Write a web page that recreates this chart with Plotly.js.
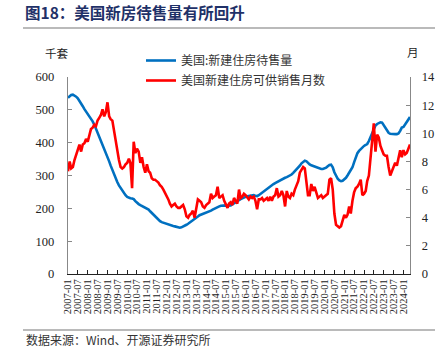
<!DOCTYPE html>
<html><head><meta charset="utf-8">
<script src="https://cdn.plot.ly/plotly-3.0.1.min.js"></script>
<style>html,body{margin:0;padding:0;background:#fff}#chart{width:445px;height:351px}</style>
</head><body><div id="chart"></div>
<script>
// Monthly data, 2007-01 .. 2024-05
const startMonth = '2007-01';
const inventory = [ // 美国:新建住房待售量 (千套)
 537,541,545,546,544,540,535,528,520,511,502,495,
 488,479,472,465,455,443,432,420,408,395,382,370,
 357,343,330,316,303,292,280,270,262,254,246,240,
 235,232,231,230,228,222,217,213,210,207,204,201,
 200,196,191,186,180,174,169,165,161,158,156,154,
 152,150,148,147,146,145,143,142,141,142,144,147,
 150,153,156,160,163,167,171,175,179,181,183,185,
 186,187,190,193,196,199,202,204,206,208,209,209,
 209,208,208,209,212,216,219,222,225,228,231,234,
 235,237,238,238,239,240,238,237,240,244,248,252,
 255,258,262,266,270,274,277,280,283,286,289,291,
 293,295,297,299,303,308,313,318,323,330,337,342,
 345,343,338,334,331,329,327,325,323,321,320,320,
 321,324,328,332,333,325,310,298,290,285,283,284,
 288,293,300,308,315,325,340,355,368,375,381,386,
 390,393,396,405,418,431,442,452,457,460,462,461,
 452,443,436,430,427,426,426,426,426,428,436,446,
 448,455,462,470,478
];
const monthsSupply = [ // 美国新建住房可供销售月数 (月)
 7.3,8.0,7.5,7.6,8.1,8.5,8.7,9.2,8.7,9.2,9.3,9.6,
 9.4,9.8,10.3,10.4,10.6,10.5,10.9,11.1,11.3,11.7,11.2,11.5,
 12.2,11.2,11.0,10.9,10.2,9.4,8.7,8.1,7.6,7.5,7.6,7.8,
 7.9,8.2,7.9,6.1,9.4,8.6,8.9,8.7,7.9,8.3,7.6,7.2,
 7.8,7.3,7.2,6.8,6.7,6.7,6.6,6.5,6.3,6.2,6.0,5.8,
 5.5,5.3,5.0,4.8,4.9,5.0,4.8,4.7,4.7,4.8,4.9,4.6,
 4.1,4.0,4.2,4.3,4.5,4.0,4.6,5.3,5.2,5.1,4.8,4.7,
 4.9,5.0,5.1,5.7,5.4,5.5,5.6,6.2,5.4,5.5,5.6,5.2,
 5.0,4.7,5.0,5.1,4.9,5.4,5.2,5.0,6.0,5.4,5.5,5.7,
 5.6,5.4,5.3,5.5,5.4,5.5,5.2,4.6,5.3,5.3,5.4,5.2,
 5.3,5.4,5.2,5.5,5.2,5.5,5.6,6.1,5.5,5.6,5.9,5.6,
 4.8,5.9,5.5,5.4,5.7,5.6,6.0,6.3,6.6,7.2,7.4,7.6,
 7.5,6.3,5.6,5.6,6.4,5.9,6.2,5.8,5.4,5.5,5.6,5.4,
 5.5,5.6,5.7,6.7,6.8,6.0,4.3,3.5,3.4,3.3,3.4,3.9,
 4.2,4.0,4.2,4.8,4.3,5.2,5.8,6.1,6.2,6.4,6.7,5.6,
 5.7,5.9,6.6,7.0,8.2,9.8,10.7,8.7,9.9,9.7,9.1,8.8,
 8.5,8.4,8.4,7.6,7.0,7.3,7.6,7.9,7.7,8.2,8.8,8.3,
 8.8,8.5,8.6,8.9,9.2
];
const tickLabels = ['2007-01','2007-07','2008-01','2008-07','2009-01','2009-07','2010-01','2010-07',
 '2011-01','2011-07','2012-01','2012-07','2013-01','2013-07','2014-01','2014-07','2015-01','2015-07',
 '2016-01','2016-07','2017-01','2017-07','2018-01','2018-07','2019-01','2019-07','2020-01','2020-07',
 '2021-01','2021-07','2022-01','2022-07','2023-01','2023-07','2024-01'];
const seriesNames = ['美国:新建住房待售量','美国新建住房可供销售月数'];

// month strings for x
const months = [];
{
  let y = +startMonth.slice(0,4), m = +startMonth.slice(5,7);
  for (let i = 0; i < inventory.length; i++) {
    months.push(y + '-' + String(m).padStart(2,'0') + '-01');
    m++; if (m > 12) { m = 1; y++; }
  }
}
const lastMonth = months[months.length-1];

const serif = 'Liberation Serif, Times New Roman, Noto Sans CJK SC, serif';
const cjk = 'Noto Sans CJK SC, sans-serif';

// plot area in px: l=68, r=410, t=77, b=274
const L=68, R=410, T=77, B=274, W=445, H=351;
const px = x => (x - L) / (R - L);
const py = y => (B - y) / (B - T);

const traces = [
  {x: months, y: inventory, name: seriesNames[0], type: 'scatter', mode: 'lines',
   line: {color: '#0070C0', width: 2.6}, yaxis: 'y', legendgroup: 'a'},
  {x: months, y: monthsSupply, name: seriesNames[1], type: 'scatter', mode: 'lines',
   line: {color: '#FF0000', width: 2.6}, yaxis: 'y2', legendgroup: 'b'}
];

const layout = {
  width: W, height: H,
  margin: {l: L, r: W - R, t: T, b: H - B, pad: 0},
  paper_bgcolor: '#fff', plot_bgcolor: '#fff',
  showlegend: true,
  legend: {x: px(141), y: py(46), xanchor: 'left', yanchor: 'top', bgcolor: 'rgba(0,0,0,0)',
           font: {family: cjk, size: 12, color: '#333'}, tracegroupgap: 1, itemwidth: 30},
  title: {text: '图18：美国新房待售量有所回升', x: 25/W, xanchor: 'left', xref: 'container',
          y: 1 - 14/H, yanchor: 'middle', yref: 'container',
          font: {family: cjk, size: 15.5, color: '#1F3168', weight: 'bold'}},
  xaxis: {type: 'date', range: [months[0], lastMonth], tickmode: 'array',
          tickvals: tickLabels.map(t => t + '-01'), ticktext: tickLabels, tickangle: -90,
          ticks: 'inside', ticklen: 4, tickcolor: '#222', showline: true, linecolor: '#222', linewidth: 1,
          showgrid: false, zeroline: false, tickfont: {family: serif, size: 10.5, color: '#222'}},
  yaxis: {range: [0, 600], dtick: 100, ticks: 'inside', ticklen: 4, tickcolor: '#888',
          showline: true, linecolor: '#888', linewidth: 1.2, showgrid: false, zeroline: false,
          tickfont: {family: serif, size: 12.5, color: '#222'}, ticklabelstandoff: 10},
  yaxis2: {range: [0, 14], dtick: 2, overlaying: 'y', side: 'right', anchor: 'x',
           ticks: 'inside', ticklen: 4, tickcolor: '#888',
           showline: true, linecolor: '#888', linewidth: 1.2, showgrid: false, zeroline: false,
           tickfont: {family: serif, size: 12.5, color: '#222'}, ticklabelstandoff: 8},
  shapes: [
    {type: 'line', xref: 'paper', yref: 'paper', x0: px(23), x1: px(435), y0: py(28), y1: py(28),
     line: {color: '#777', width: 1.2}},
    {type: 'line', xref: 'paper', yref: 'paper', x0: px(23), x1: px(435), y0: py(330), y1: py(330),
     line: {color: '#777', width: 1.2}}
  ],
  annotations: [
    {text: '千套', xref: 'paper', yref: 'paper', x: px(57), y: py(53), showarrow: false,
     xanchor: 'center', yanchor: 'middle', font: {family: cjk, size: 11.5, color: '#222'}},
    {text: '月', xref: 'paper', yref: 'paper', x: px(413), y: py(52), showarrow: false,
     xanchor: 'center', yanchor: 'middle', font: {family: cjk, size: 11.5, color: '#222'}},
    {text: '数据来源：Wind、开源证券研究所', xref: 'paper', yref: 'paper', x: px(24), y: py(339),
     showarrow: false, xanchor: 'left', yanchor: 'middle', font: {family: cjk, size: 12, color: '#333'}}
  ]
};

Plotly.newPlot('chart', traces, layout, {displayModeBar: false, staticPlot: true});
</script>
</body></html>
